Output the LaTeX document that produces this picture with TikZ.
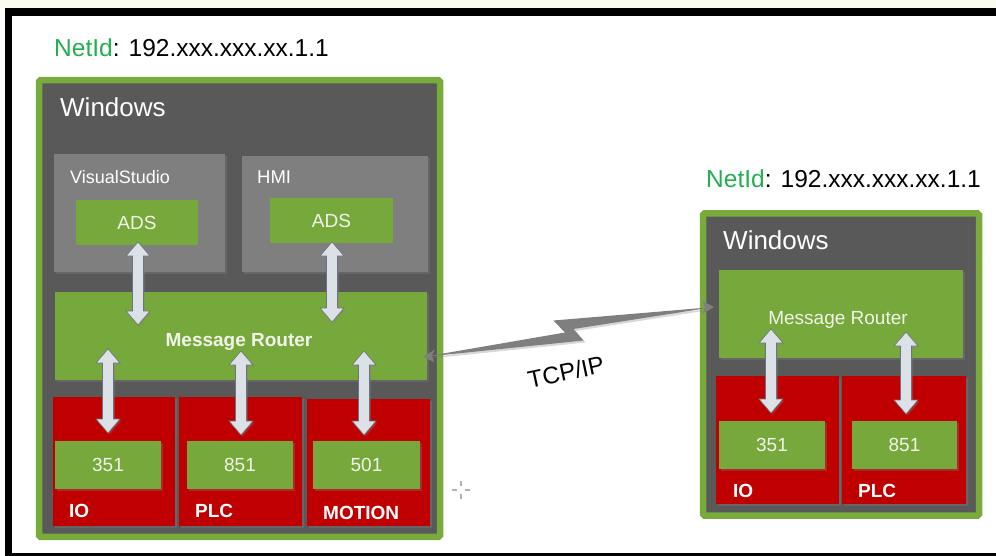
\documentclass[tikz,border=0pt]{standalone}
\usepackage{fontspec}
\setmainfont{Liberation Sans}
\usetikzlibrary{shadows,calc}
\definecolor{cframe}{HTML}{78AB3C}
\definecolor{cgreen}{HTML}{77A83B}
\definecolor{cdark}{HTML}{595959}
\definecolor{cgray}{HTML}{7F7F7F}
\definecolor{cred}{HTML}{C00000}
\definecolor{cnet}{HTML}{22B050}
\definecolor{carrow}{HTML}{DCE1E8}
\definecolor{carrowln}{HTML}{6B7480}
\definecolor{clight}{HTML}{F2F4EA}
\definecolor{ccream}{HTML}{FBFBEF}
\newcommand\fsz[1]{\fontsize{#1}{#1}\selectfont}
\newcommand\dblarrow[2]{%
  \path[fill=carrow, draw=carrowln, line width=0.6pt,
        drop shadow={shadow xshift=1.5pt, shadow yshift=-1.5pt, opacity=0.35}]
    (#1) -- ++(12,14) -- ++(-6.5,0) -- ($(#2)+(5.5,-14)$) -- ++(6.5,0) -- (#2)
    -- ++(-12,-14) -- ++(6.5,0) -- ($(#1)+(-5.5,14)$) -- ++(-6.5,0) -- cycle;}
\tikzset{
  box/.style={rectangle, inner sep=0pt, outer sep=0pt},
  shad/.style={drop shadow={shadow xshift=2pt, shadow yshift=-2pt, opacity=0.35}},
  frame/.style={box, fill=cdark, draw=cframe, line width=6.5pt, rounded corners=1.5pt, shad},
  graybox/.style={box, fill=cgray, shad},
  greenbox/.style={box, fill=cgreen, shad, text=clight, font=\fsz{19}},
  redbox/.style={box, fill=cred, shad},
  lbl/.style={inner sep=0pt, anchor=base west},
}
\begin{document}
\begin{tikzpicture}[x=1pt,y=-1pt]
\useasboundingbox (0,0) rectangle (996,556);
% page frame
\fill[ccream] (0,0) rectangle (996,8);
\fill[white] (5,8) rectangle (996,556);
\fill[black] (5,8) rectangle (996,16);
\fill[black] (5,8) rectangle (12,556);
\fill[black] (5,553) rectangle (996,556);

% ---------- left PC ----------
\node[lbl, font=\fsz{24.5}] (netL) at (54,57) {\textcolor{cnet}{NetId}: 192.xxx.xxx.xx.1.1};
\node[frame, minimum width=401pt, minimum height=456.5pt] (winL) at (239.5,308.5) {};
\node[lbl, font=\fsz{26}, text=white] (winLt) at (60,117) {Windows};

\node[graybox, minimum width=171pt, minimum height=118pt] (vs) at (139.5,213) {};
\node[lbl, font=\fsz{18}, text=white] (vst) at (70,184) {VisualStudio};
\node[graybox, minimum width=186pt, minimum height=116pt] (hmi) at (335,214) {};
\node[lbl, font=\fsz{18.5}, text=white] (hmit) at (257,184) {HMI};
\node[greenbox, minimum width=122pt, minimum height=45pt] (ads1) at (137,222.5) {ADS};
\node[greenbox, minimum width=123pt, minimum height=45pt] (ads2) at (331.5,220.5) {ADS};

\node[greenbox, minimum width=372pt, minimum height=88pt] (rtL) at (241,336) {};
\node[inner sep=0pt, anchor=base, font=\fsz{19}\bfseries, text=clight] (rtLt) at (239,346) {Message Router};

\node[redbox, minimum width=122pt, minimum height=129pt] (ioL) at (114,461.5) {};
\node[redbox, minimum width=123pt, minimum height=129pt] (plcL) at (240.5,461.5) {};
\node[redbox, minimum width=123pt, minimum height=127pt] (motL) at (368.5,462.5) {};
\node[greenbox, minimum width=106pt, minimum height=48pt] (n351L) at (108,465) {351};
\node[greenbox, minimum width=106pt, minimum height=48pt] (n851L) at (240,465) {851};
\node[greenbox, minimum width=107pt, minimum height=48pt] (n501L) at (366.5,465) {501};
\node[lbl, font=\fsz{19}\bfseries, text=white] (ioLt) at (69,517) {IO};
\node[lbl, font=\fsz{19}\bfseries, text=white] (plcLt) at (195,517) {PLC};
\node[lbl, font=\fsz{19}\bfseries, text=white] (motLt) at (323,519) {MOTION};

\coordinate (a1t) at (138,242); \coordinate (a1b) at (138,325);
\coordinate (a2t) at (332,242); \coordinate (a2b) at (332,322);
\coordinate (a3t) at (108,349); \coordinate (a3b) at (108,433);
\coordinate (a4t) at (241,351); \coordinate (a4b) at (241,435);
\coordinate (a5t) at (364,351); \coordinate (a5b) at (364,435);
\dblarrow{a1t}{a1b}
\dblarrow{a2t}{a2b}
\dblarrow{a3t}{a3b}
\dblarrow{a4t}{a4b}
\dblarrow{a5t}{a5b}

% ---------- right PC ----------
\node[lbl, font=\fsz{24.5}] (netR) at (706,188) {\textcolor{cnet}{NetId}: 192.xxx.xxx.xx.1.1};
\node[frame, minimum width=276pt, minimum height=302pt] (winR) at (841,364.5) {};
\node[lbl, font=\fsz{26}, text=white] (winRt) at (723,250) {Windows};
\node[greenbox, minimum width=244pt, minimum height=88pt] (rtR) at (841,314) {};
\node[inner sep=0pt, anchor=base, font=\fsz{19}, text=clight] (rtRt) at (838,324) {Message Router};
\node[redbox, minimum width=123pt, minimum height=128pt] (ioR) at (777.5,440) {};
\node[redbox, minimum width=124pt, minimum height=128pt] (plcR) at (904,440) {};
\node[greenbox, minimum width=106pt, minimum height=48pt] (n351R) at (772,445) {351};
\node[greenbox, minimum width=105pt, minimum height=48pt] (n851R) at (904.5,445) {851};
\node[lbl, font=\fsz{19}\bfseries, text=white] (ioRt) at (733,497) {IO};
\node[lbl, font=\fsz{19}\bfseries, text=white] (plcRt) at (858,497) {PLC};
\coordinate (a6t) at (771,329); \coordinate (a6b) at (771,413);
\coordinate (a7t) at (906,332); \coordinate (a7b) at (906,414);
\dblarrow{a6t}{a6b}
\dblarrow{a7t}{a7b}

% ---------- TCP/IP link ----------
\coordinate (tl) at (423,357);
\coordinate (tr) at (714,307);
\path[fill=cgray, drop shadow={shadow xshift=2pt, shadow yshift=-2pt, opacity=0.3}]
  (tl) -- (583.5,340.5) -- (573.5,329) -- (tr) -- (553.5,320.5) -- (565,332.5) -- cycle;
\fill[cgray] (tl) -- (435,349.5) -- (432,355) -- (434,362) -- cycle;
\fill[cgray] (tr) -- (702,301) -- (705,306.5) -- (703,313.5) -- cycle;
\node[font=\fsz{24}, rotate=12, inner sep=0pt] (tcp) at (566,372) {TCP/IP};

% cursor mark
\draw[gray!60, line width=1.5pt] (452,490) -- (457,490) (465,490) -- (470,490)
  (461,481) -- (461,486) (461,494) -- (461,499);
\end{tikzpicture}
\end{document}
